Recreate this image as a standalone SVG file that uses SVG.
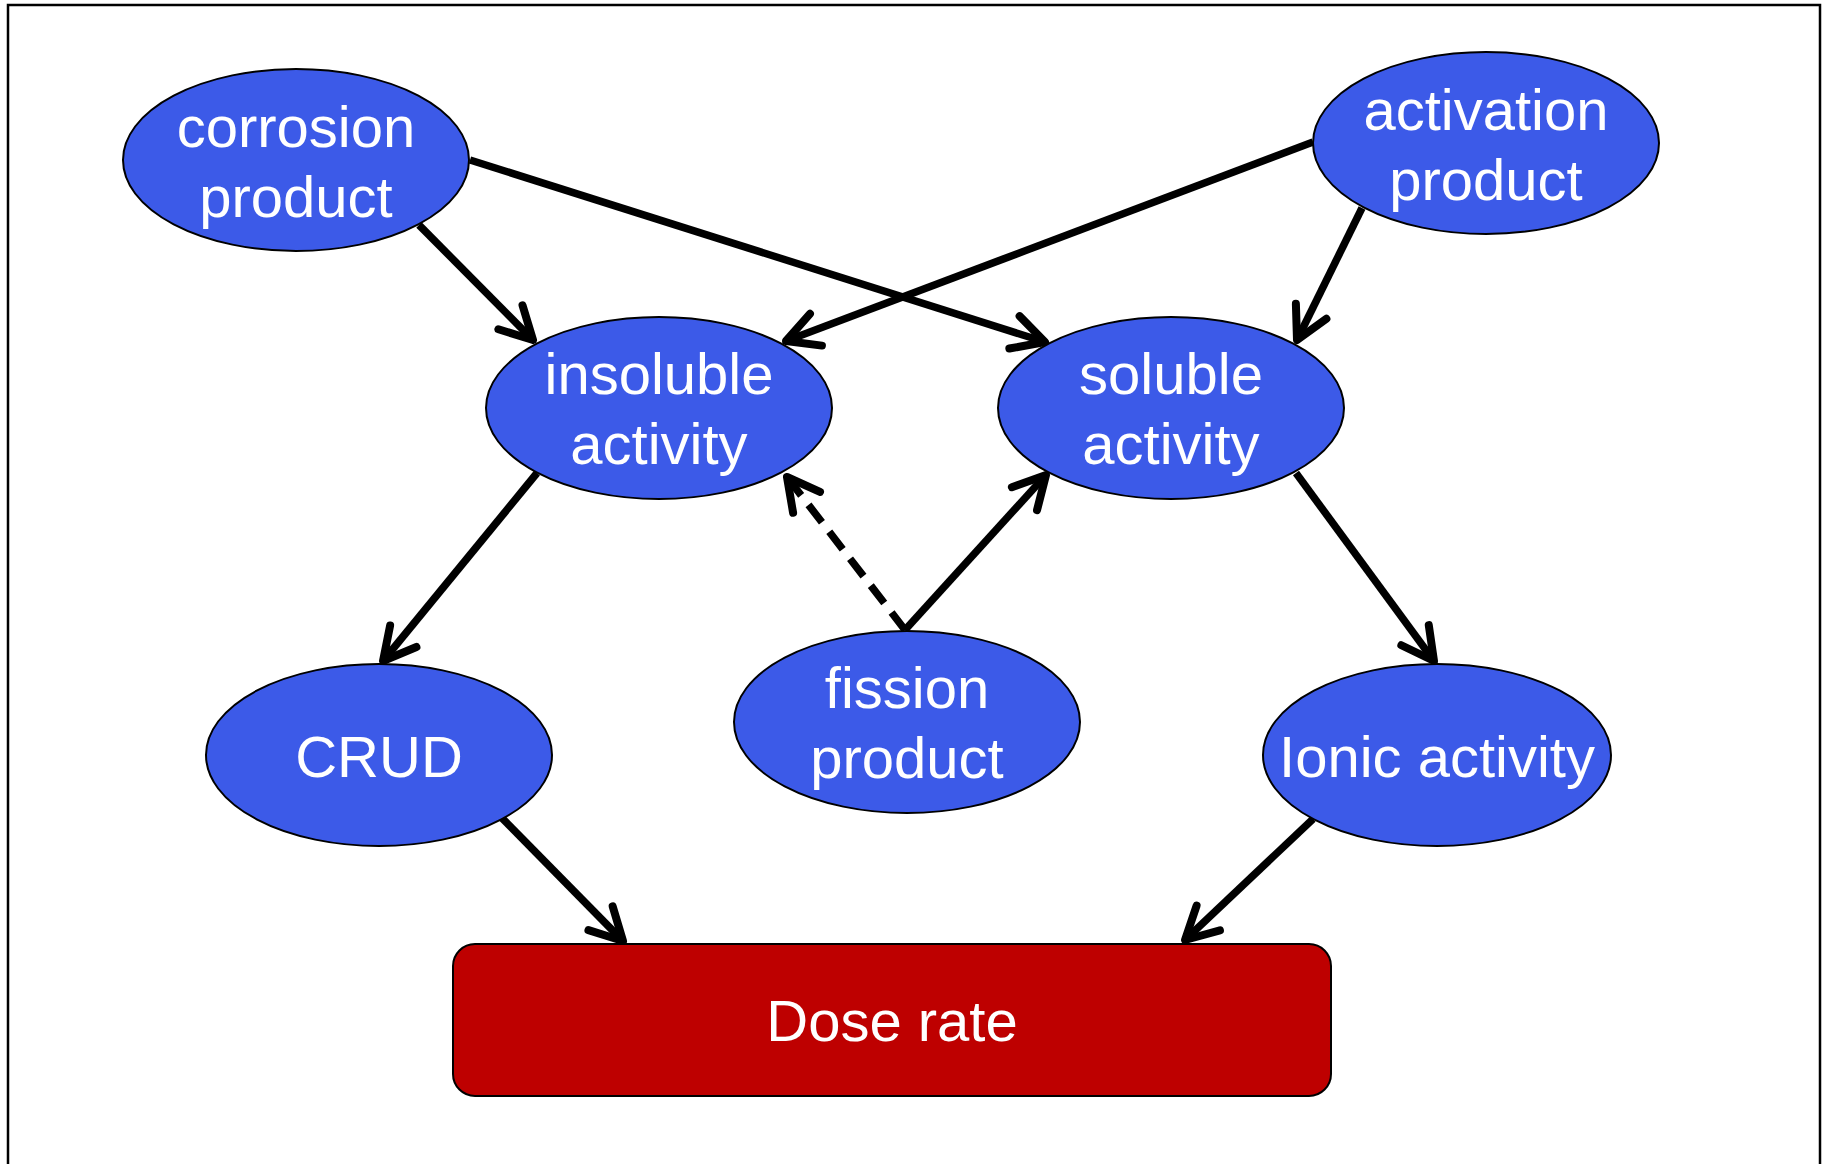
<svg xmlns="http://www.w3.org/2000/svg" width="1827" height="1164" viewBox="0 0 1827 1164">
<style>
.node ellipse{fill:#3C5AE8;stroke:#000;stroke-width:2}
.box rect{fill:#BE0000;stroke:#000;stroke-width:2}
.lbl{font-family:"Liberation Sans",Arial,sans-serif;font-size:58px;fill:#fff;text-anchor:middle}
.edge{stroke:#000;stroke-width:7.5;fill:none}
.dash{stroke-dasharray:22 12}
</style>
<defs>
<marker id="arr" markerUnits="userSpaceOnUse" orient="auto" markerWidth="80" markerHeight="80" viewBox="-40 -40 80 80" refX="0" refY="0" overflow="visible">
<path d="M-32,-17 L0,0 L-32,17" fill="none" stroke="#000" stroke-width="8" stroke-linecap="round" stroke-linejoin="round" stroke-dasharray="none"/>
</marker>
</defs>
<rect x="8" y="5" width="1812" height="1170" fill="#fff" stroke="#000" stroke-width="2.5"/>
<g id="connectors">
<line class="edge" x1="419" y1="225" x2="533" y2="340" marker-end="url(#arr)"/>
<line class="edge" x1="470" y1="160" x2="1045" y2="342" marker-end="url(#arr)"/>
<line class="edge" x1="1313" y1="142" x2="786" y2="341" marker-end="url(#arr)"/>
<line class="edge" x1="1362" y1="208" x2="1297" y2="340" marker-end="url(#arr)"/>
<line class="edge" x1="537" y1="473" x2="383" y2="661" marker-end="url(#arr)"/>
<line class="edge dash" x1="905" y1="630" x2="787" y2="477" marker-end="url(#arr)"/>
<line class="edge" x1="905" y1="630" x2="1046" y2="475" marker-end="url(#arr)"/>
<line class="edge" x1="1296" y1="473" x2="1434" y2="661" marker-end="url(#arr)"/>
<line class="edge" x1="502" y1="818" x2="623" y2="941" marker-end="url(#arr)"/>
<line class="edge" x1="1313" y1="819" x2="1185" y2="940" marker-end="url(#arr)"/>
</g>
<g id="corrosion" class="node"><ellipse cx="296" cy="160" rx="173" ry="91"/><text class="lbl" x="296" y="147">corrosion</text><text class="lbl" x="296" y="217">product</text></g>
<g id="activation" class="node"><ellipse cx="1486" cy="143" rx="173" ry="91"/><text class="lbl" x="1486" y="130">activation</text><text class="lbl" x="1486" y="200">product</text></g>
<g id="insoluble" class="node"><ellipse cx="659" cy="408" rx="173" ry="91"/><text class="lbl" x="659" y="394">insoluble</text><text class="lbl" x="659" y="464">activity</text></g>
<g id="soluble" class="node"><ellipse cx="1171" cy="408" rx="173" ry="91"/><text class="lbl" x="1171" y="394">soluble</text><text class="lbl" x="1171" y="464">activity</text></g>
<g id="fission" class="node"><ellipse cx="907" cy="722" rx="173" ry="91"/><text class="lbl" x="907" y="708">fission</text><text class="lbl" x="907" y="778">product</text></g>
<g id="crud" class="node"><ellipse cx="379" cy="755" rx="173" ry="91"/><text class="lbl" x="379" y="777">CRUD</text></g>
<g id="ionic" class="node"><ellipse cx="1437" cy="755" rx="174" ry="91"/><text class="lbl" x="1437" y="777">Ionic activity</text></g>
<g id="dose" class="box"><rect x="453" y="944" width="878" height="152" rx="22" ry="22"/><text class="lbl" x="892" y="1041">Dose rate</text></g>
</svg>
